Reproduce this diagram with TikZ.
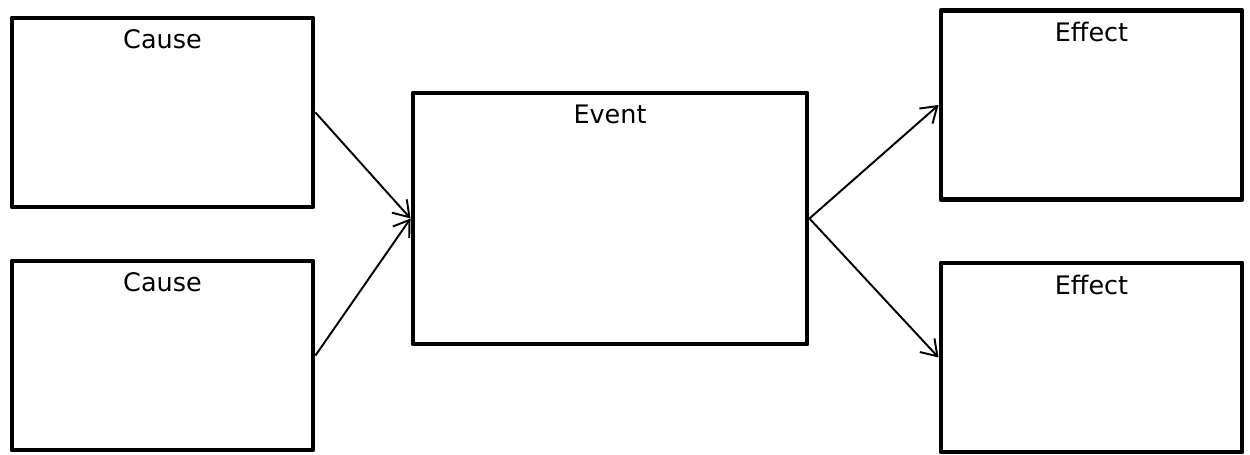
\documentclass[tikz,border=0pt]{standalone}
\usepackage{fontspec}
\setmainfont{DejaVu Sans}
\usetikzlibrary{arrows.meta}

\begin{document}
\begin{tikzpicture}[arr/.style={-{Straight Barb[length=3mm,width=4mm]},line width=1.1pt},
    every label/.style={anchor=center,yshift=-0.48cm,font=\fontsize{14.5}{17}\selectfont}]
    \tikzstyle{box}=[rectangle,draw=black,line width=2.8pt,line join=round,inner sep=0pt]
    \tikzstyle{small}=[box,minimum width=6.02cm,minimum height=3.78cm]

    \useasboundingbox (0,0) rectangle (25,-9.1);

    \node[small,label=north:Cause] (cause1) at (3.25,-2.25) {};
    \node[small,label=north:Cause] (cause2) at (3.25,-7.11) {};
    \node[box,minimum width=7.88cm,minimum height=5.02cm,label=north:Event] (event) at (12.2,-4.37) {};
    \node[small,label=north:Effect] (effect1) at (21.83,-2.10) {};
    \node[small,label=north:Effect] (effect2) at (21.83,-7.15) {};

    \draw[arr] (cause1.east) -- (event.west);
    \draw[arr] (cause2.east) -- (event.west);
    \draw[arr] (event.east) -- (effect1.west);
    \draw[arr] (event.east) -- (effect2.west);

  \end{tikzpicture}
\end{document}
